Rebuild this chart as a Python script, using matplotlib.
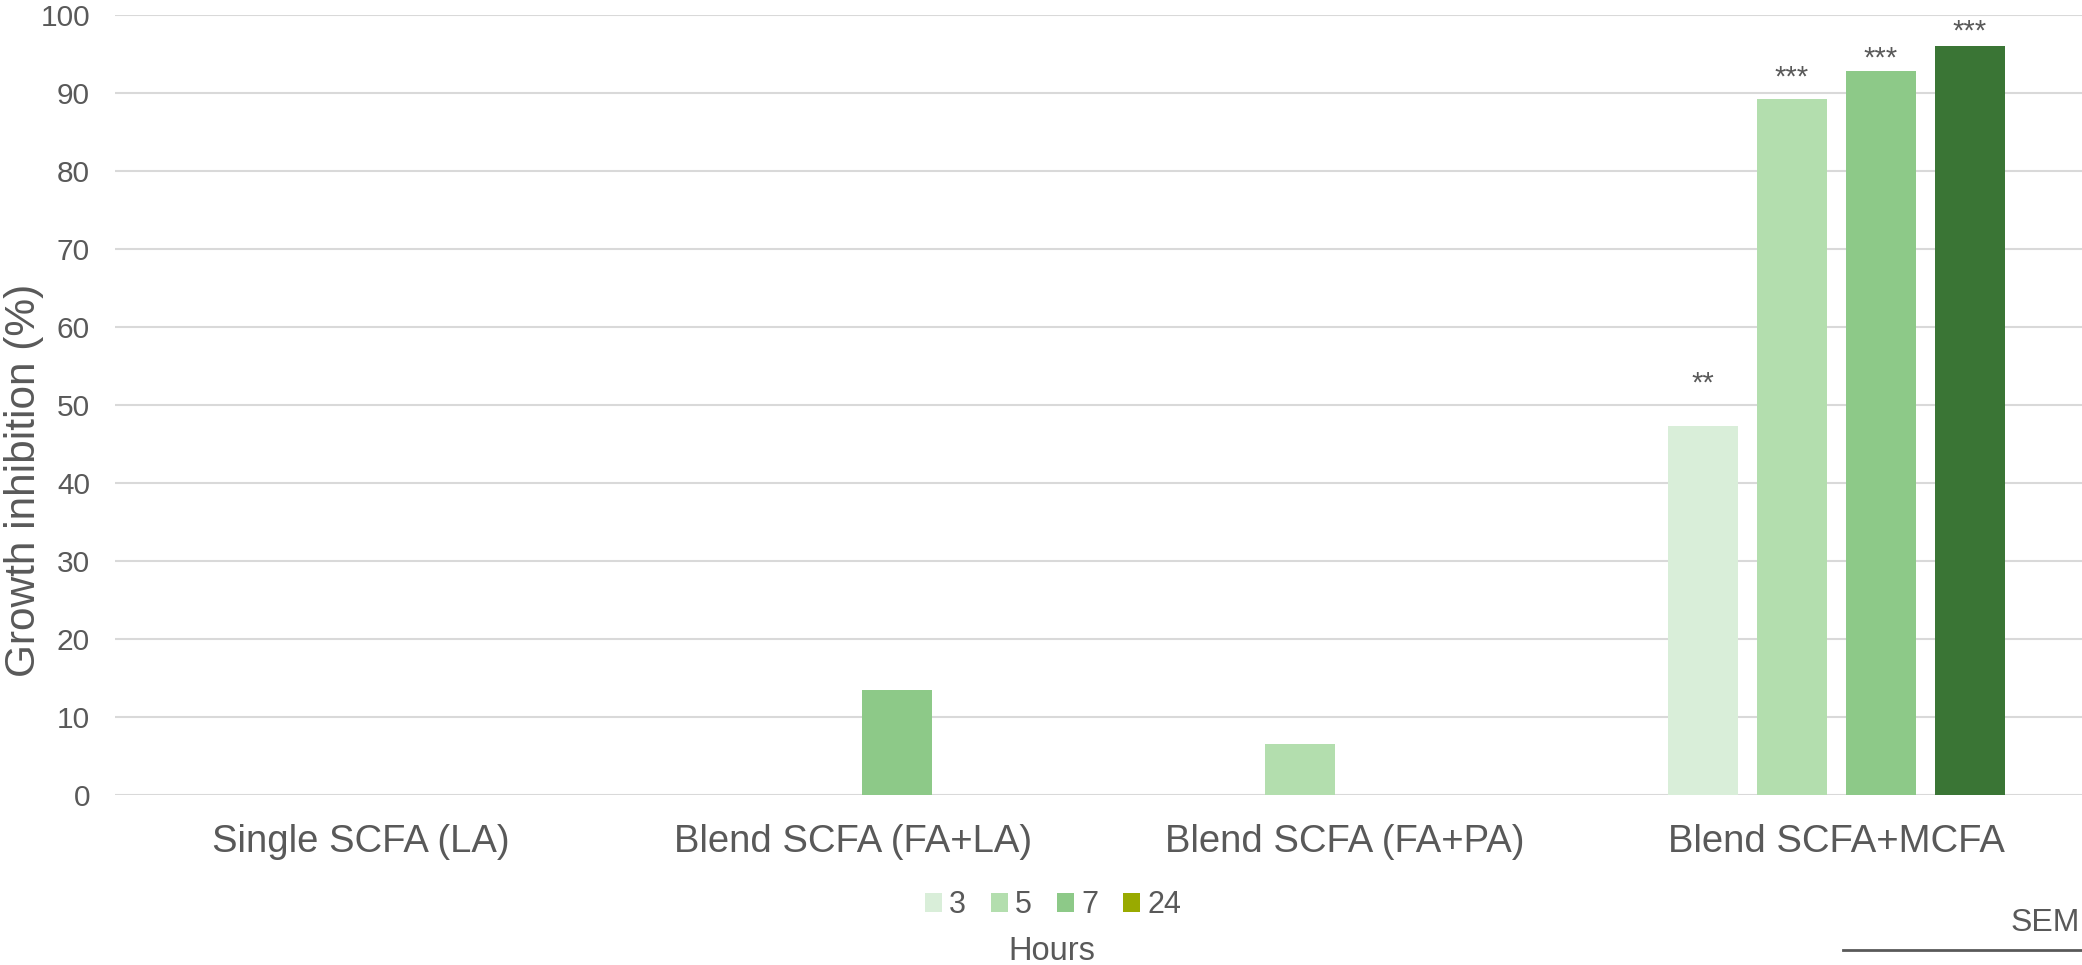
import numpy as np
import matplotlib.pyplot as plt
from matplotlib.patches import Patch

# ---- data ----
categorias = ["Single SCFA (LA)", "Blend SCFA (FA+LA)", "Blend SCFA (FA+PA)", "Blend SCFA+MCFA"]
horas = ["3", "5", "7", "24"]
inib_3h = [0, 0, 0, 47.3]
inib_5h = [0, 0, 6.5, 89.2]
inib_7h = [0, 13.5, 0, 92.8]
inib_24h = [0, 0, 0, 96.0]
# significancia (texto e altura onde aparece, acima do erro padrao)
sig_3h = ["", "", "", "**"]
sig_5h = ["", "", "", "***"]
sig_7h = ["", "", "", "***"]
sig_24h = ["", "", "", "***"]
sig_altura_3h = [0, 0, 0, 53.5]
sig_altura_5h = [0, 0, 0, 92.7]
sig_altura_7h = [0, 0, 0, 95.1]
sig_altura_24h = [0, 0, 0, 98.6]

cores_barras = ["#d9eed9", "#b3deae", "#8dc988", "#3a7535"]
cores_legenda = ["#d9eed9", "#b3deae", "#8dc988", "#99aa00"]
cinza = "#595959"

plt.rcParams["font.family"] = ["Liberation Sans", "DejaVu Sans"]

W, H = 2082, 965
fig = plt.figure(figsize=(W / 100, H / 100), dpi=100)
ax = fig.add_axes([115 / W, 170 / H, 1 - 115 / W, 780 / H])

x = np.arange(len(categorias))
passo = 0.181
largura = 0.1424
series = [inib_3h, inib_5h, inib_7h, inib_24h]
sigs = [sig_3h, sig_5h, sig_7h, sig_24h]
sig_alturas = [sig_altura_3h, sig_altura_5h, sig_altura_7h, sig_altura_24h]

for i in range(len(series)):
    pos = x + (i - 1.5) * passo
    ax.bar(pos, series[i], width=largura, color=cores_barras[i], zorder=3)
    for p, s, h in zip(pos, sigs[i], sig_alturas[i]):
        if s:
            # o asterisco fica na parte de cima da caixa do texto
            ax.text(p, h - 2.5, s, ha="center", va="bottom", fontsize=21, color=cinza)

ax.set_xlim(-0.5, len(categorias) - 0.5)
ax.set_ylim(0, 100)
ax.set_yticks(np.arange(0, 101, 10))
ax.set_xticks(x)
ax.set_xticklabels(categorias, fontsize=27.5, color=cinza)
ax.tick_params(axis="y", labelsize=21.5, labelcolor=cinza, length=0, pad=18)
ax.tick_params(axis="x", length=0, pad=21)
ax.grid(axis="y", color="#d9d9d9", linewidth=1.5, zorder=0)
for lado in ax.spines.values():
    lado.set_visible(False)

fig.text(24 / W, 1 - 480 / H, "Growth inhibition (%)", rotation=90, ha="center", va="center",
         fontsize=30.5, color=cinza)

# legenda
alcas = [Patch(facecolor=c, edgecolor="none") for c in cores_legenda]
leg = fig.legend(alcas, horas, loc="center", bbox_to_anchor=(1053 / W, 1 - 905 / H),
                 ncol=4, frameon=False, fontsize=22, handlelength=0.56, handleheight=0.56,
                 handletextpad=0.23, columnspacing=0.82)
for t in leg.get_texts():
    t.set_color(cinza)
fig.text(1052 / W, 1 - 952 / H, "Hours", ha="center", va="center", fontsize=23.5, color=cinza)

# SEM
fig.text(2080 / W, 1 - 923 / H, "SEM", ha="right", va="center", fontsize=23, color=cinza)
fig.add_artist(plt.Line2D([1843 / W, 1.0], [1 - 950 / H, 1 - 950 / H], color=cinza, linewidth=2))

fig.savefig("out.png", dpi=100)
